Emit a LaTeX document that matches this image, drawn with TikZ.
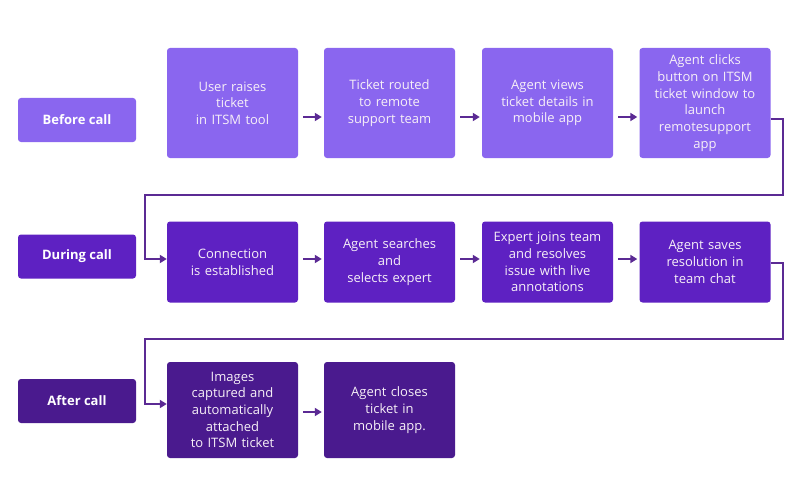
\documentclass[tikz,border=0pt]{standalone}
\usepackage{fontspec}
\setmainfont{Open Sans}
\usetikzlibrary{arrows.meta}
\definecolor{lightviolet}{HTML}{8A66EF}
\definecolor{midviolet}{HTML}{5E21C2}
\definecolor{darkviolet}{HTML}{4A1A8E}
\definecolor{linkviolet}{HTML}{5B2A94}
\begin{document}
\begin{tikzpicture}[x=1pt, y=-1pt,
	step box/.style={rounded corners=3pt, text=white!94!violet, align=center, font=\fontsize{13}{16.7}\selectfont, minimum width=131pt, text width=127pt, inner sep=0pt},
	phase/.style={rounded corners=3pt, text=white, font=\fontsize{13}{15}\selectfont\bfseries, minimum width=118pt, minimum height=44pt, inner sep=0pt},
	link/.style={draw=linkviolet, line width=1.8pt, -{Triangle[length=7pt,width=8pt]}}]
	\useasboundingbox (0,0) rectangle (802,500);

	% before call
	\node[phase, fill=lightviolet] (before) at (77,120) {Before call};
	\node[step box, fill=lightviolet, minimum height=110pt] (u1) at (232.5,103) {User raises\\ticket\\in ITSM tool};
	\node[step box, fill=lightviolet, minimum height=110pt] (u2) at (389.5,103) {Ticket routed\\to remote\\support team};
	\node[step box, fill=lightviolet, minimum height=110pt] (u3) at (547.5,103) {Agent views\\ticket details in\\mobile app};
	\node[step box, fill=lightviolet, minimum height=110pt] (u4) at (705,103) {Agent clicks\\button on ITSM\\ticket window to\\launch\\remotesupport\\app};

	% during call
	\node[phase, fill=midviolet] (during) at (77,256.5) {During call};
	\node[step box, fill=midviolet, minimum height=81pt] (v1) at (232.5,262) {Connection\\is established};
	\node[step box, fill=midviolet, minimum height=81pt] (v2) at (389.5,262) {Agent searches\\and\\selects expert};
	\node[step box, fill=midviolet, minimum height=81pt] (v3) at (547.5,262) {Expert joins team\\and resolves\\issue with live\\annotations};
	\node[step box, fill=midviolet, minimum height=81pt] (v4) at (705,262) {Agent saves\\resolution in\\team chat};

	% after call
	\node[phase, fill=darkviolet] (after) at (77,401) {After call};
	\node[step box, fill=darkviolet, minimum height=96pt] (w1) at (232.5,410) {Images\\captured and\\automatically\\attached\\to ITSM ticket};
	\node[step box, fill=darkviolet, minimum height=96pt] (w2) at (389.5,410) {Agent closes\\ticket in\\mobile app.};

	\coordinate (back1) at (145,195);
	\coordinate (back2) at (145,339);

	\draw[link, shorten <=5pt, shorten >=2pt] ([yshift=-14pt]u1.east) -- ([yshift=-14pt]u2.west);
	\draw[link, shorten <=5pt, shorten >=2pt] ([yshift=-14pt]u2.east) -- ([yshift=-14pt]u3.west);
	\draw[link, shorten <=5pt, shorten >=2pt] ([yshift=-14pt]u3.east) -- ([yshift=-14pt]u4.west);
	\draw[link] ([yshift=-16pt]u4.east) -- ++(12,0) |- (back1) |- ([yshift=3pt]v1.west);

	\draw[link, shorten <=5pt, shorten >=2pt] ([yshift=3pt]v1.east) -- ([yshift=3pt]v2.west);
	\draw[link, shorten <=5pt, shorten >=2pt] ([yshift=3pt]v2.east) -- ([yshift=3pt]v3.west);
	\draw[link, shorten <=5pt, shorten >=2pt] ([yshift=3pt]v3.east) -- ([yshift=3pt]v4.west);
	\draw[link] ([yshift=-1pt]v4.east) -- ++(12,0) |- (back2) |- ([yshift=6pt]w1.west);

	\draw[link, shorten <=5pt, shorten >=2pt] ([yshift=-2pt]w1.east) -- ([yshift=-2pt]w2.west);
\end{tikzpicture}
\end{document}
